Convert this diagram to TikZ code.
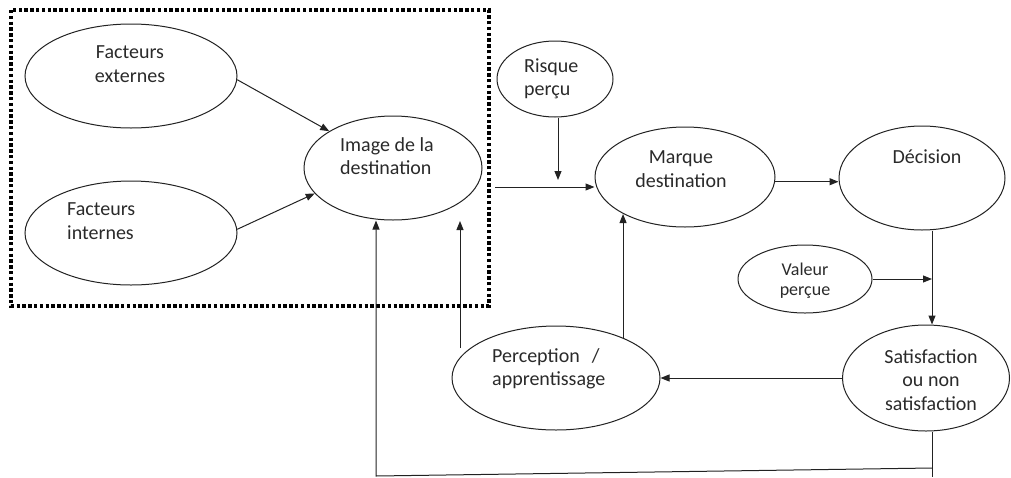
\documentclass[tikz,border=0pt]{standalone}
\usepackage{fontspec}
\setmainfont{Carlito}
\usetikzlibrary{shapes.geometric,arrows.meta}

\definecolor{ink}{HTML}{222222}
\definecolor{txt}{HTML}{2A2A2A}

\tikzset{
  blob/.style={draw=ink, line width=1pt, ellipse, inner sep=0pt},
  lbl/.style={text=txt, inner sep=0pt, font=\fontsize{20}{23.5}\selectfont},
  lblsmall/.style={text=txt, inner sep=0pt, font=\fontsize{18}{20.5}\selectfont},
  link/.style={draw=ink, line width=1pt},
  arr/.style={link, -{Triangle[length=9pt,width=7pt]}},
  frame/.style={draw=black, line width=3.4pt, dash pattern=on 3.4pt off 2.4pt}
}

\begin{document}
\begin{tikzpicture}[x=1pt, y=-1pt]
\useasboundingbox (0,0) rectangle (1011,477);

% dotted frame around the image-formation block
\draw[frame] (11,10) rectangle (489,306);

% ellipses
\node[blob, minimum width=212pt, minimum height=104pt] (fe)   at (131,76)  {};
\node[blob, minimum width=212pt, minimum height=104pt] (fi)   at (131,233) {};
\node[blob, minimum width=178pt, minimum height=104pt] (img)  at (393,168) {};
\node[blob, minimum width=116pt, minimum height=76pt]  (risk) at (555,79)  {};
\node[blob, minimum width=180pt, minimum height=100pt] (mar)  at (685,177) {};
\node[blob, minimum width=166pt, minimum height=104pt] (dec)  at (922,178) {};
\node[blob, minimum width=134pt, minimum height=68pt]  (val)  at (805,279) {};
\node[blob, minimum width=167pt, minimum height=106pt] (sat)  at (926,378) {};
\node[blob, minimum width=208pt, minimum height=104pt] (per)  at (556,378) {};

% labels
\node[lbl, align=center]            (fe-t)   at (130,64)  {Facteurs\\externes};
\node[lbl, align=left, anchor=west] (fi-t)   at (67,221)  {Facteurs\\internes};
\node[lbl, align=left, anchor=west] (img-t)  at (340,156) {Image de la\\destination};
\node[lbl, align=left, anchor=west] (risk-t) at (524,79)  {Risque\\perçu};
\node[lbl, align=center]            (mar-t)  at (681,169) {Marque\\destination};
\node[lbl]                          (dec-t)  at (927,157) {Décision};
\node[lblsmall, align=center]       (val-t)  at (805,281) {Valeur\\perçue};
\node[lbl, align=center]            (sat-t)  at (931,380) {Satisfaction\\ou non\\satisfaction};
\node[lbl, anchor=base west]        (per-t1) at (492,362) {Perception\hspace{0.6em}/};
\node[lbl, anchor=base west]        (per-t2) at (492,385.5) {apprentissage};

% helper coordinates for free line ends and shared verticals
\coordinate (rj)  at (558,180);
\coordinate (hs)  at (495,187);
\coordinate (vx)  at (932,0);
\coordinate (pl0) at (460,348);
\coordinate (pl1) at (460,221);
\coordinate (bl)  at (376,476);
\coordinate (br)  at (932,468);
\coordinate (bv)  at (932,477);

% connectors
\draw[arr] (fe.-2) -- (img.150);
\draw[arr] (fi.2) -- (img.198);
\draw[arr] (risk.south -| rj) -- (rj);
\draw[arr] (hs) -- (hs -| mar.west);
\draw[arr] (mar.-3) -- (mar.-3 -| dec.west);
\draw[arr] (dec.south -| vx) -- (sat.north -| vx);
\draw[arr] (val.east) -- (val.east -| vx);
\draw[arr] (sat.west) -- (per.east);
\draw[arr] (per.31) -- (per.31 |- mar.211.5);
\draw[arr] (pl0) -- (pl1);
\draw[link] (sat.south -| vx) -- (bv);
\draw[arr] (br) -- (bl) -- (img.south -| bl);
\end{tikzpicture}
\end{document}
